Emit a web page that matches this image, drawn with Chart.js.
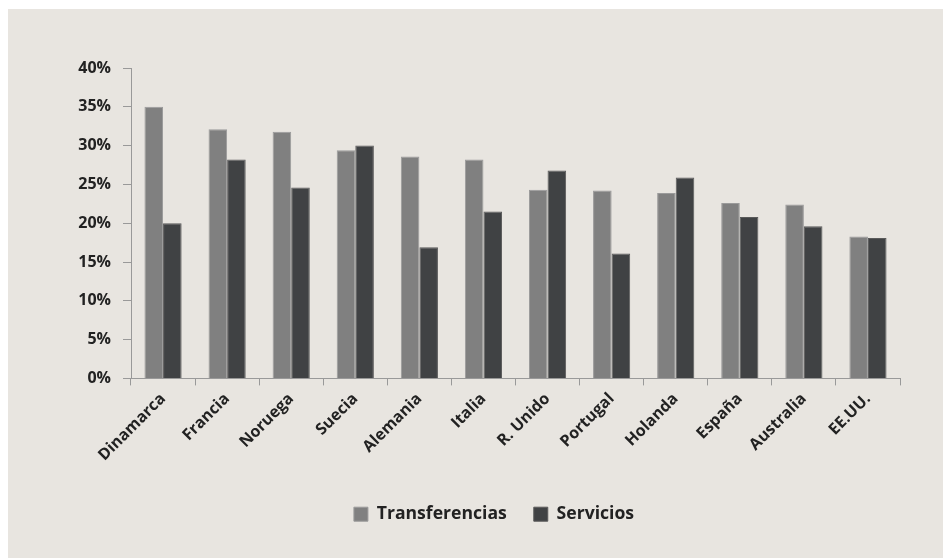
<!DOCTYPE html>
<html>
<head>
<meta charset="utf-8">
<script src="https://cdn.jsdelivr.net/npm/chart.js@4/dist/chart.umd.min.js"></script>
<style>
  html, body { margin: 0; padding: 0; background: #ffffff; }
  #wrap { position: absolute; left: 8px; top: 9px; width: 935px; height: 549px; background: #e8e5e0; }
</style>
</head>
<body>
<div id="wrap"><canvas id="chartCanvas" width="935" height="549"></canvas></div>
<script>
const paises = ['Dinamarca', 'Francia', 'Noruega', 'Suecia', 'Alemania', 'Italia',
    'R. Unido', 'Portugal', 'Holanda', 'España', 'Australia', 'EE.UU.'];
const transferencias = [35.0, 32.1, 31.8, 29.4, 28.6, 28.2, 24.3, 24.2, 23.9, 22.6, 22.4, 18.3];
const servicios = [20.0, 28.2, 24.6, 30.0, 16.9, 21.5, 26.8, 16.1, 25.9, 20.8, 19.6, 18.1];
const yTicks = [0, 5, 10, 15, 20, 25, 30, 35, 40];

const fontFamily = "'Open Sans', sans-serif";

// the legend in the picture sits a bit right of the canvas centre
const shiftLegend = {
    id: 'shiftLegend',
    afterLayout(chart) {
        chart.legend.left += 40;
        chart.legend.right += 40;
    }
};

const ctx = document.getElementById('chartCanvas').getContext('2d');
new Chart(ctx, {
    type: 'bar',
    data: {
        labels: paises,
        datasets: [{
            label: 'Transferencias',
            data: transferencias,
            backgroundColor: '#808080',
            borderColor: '#9a9a9a',
            borderWidth: 1
        }, {
            label: 'Servicios',
            data: servicios,
            backgroundColor: '#404244',
            borderColor: '#5a5a5a',
            borderWidth: 1
        }]
    },
    options: {
        responsive: false,
        animation: false,
        layout: { padding: { top: 59, right: 43, bottom: 25, left: 0 } },
        datasets: { bar: { categoryPercentage: 0.58, barPercentage: 1.0 } },
        plugins: {
            tooltip: { enabled: false },
            legend: {
                position: 'bottom',
                labels: {
                    color: '#222',
                    boxWidth: 14,
                    boxHeight: 14,
                    padding: 27,
                    font: { family: fontFamily, size: 17.6, weight: 'bold' }
                }
            }
        },
        scales: {
            x: {
                grid: { display: true, drawOnChartArea: false, color: '#999', tickLength: 7, offset: true },
                border: { color: '#999' },
                ticks: {
                    color: '#222',
                    minRotation: 45,
                    maxRotation: 45,
                    padding: 4,
                    font: { family: fontFamily, size: 16, weight: 'bold' }
                },
                afterFit: function (scale) { scale.height = 100; }
            },
            y: {
                min: 0,
                max: 40,
                afterBuildTicks: function (scale) {
                    scale.ticks = yTicks.map(v => ({ value: v }));
                },
                grid: { display: true, drawOnChartArea: false, color: '#999', tickLength: 8 },
                border: { color: '#999' },
                ticks: {
                    color: '#222',
                    padding: 12,
                    callback: v => v + '%',
                    font: { family: fontFamily, size: 16, weight: 'bold' }
                },
                afterFit: function (scale) { scale.width = 123; }
            }
        }
    },
    plugins: [shiftLegend]
});
</script>
</body>
</html>
